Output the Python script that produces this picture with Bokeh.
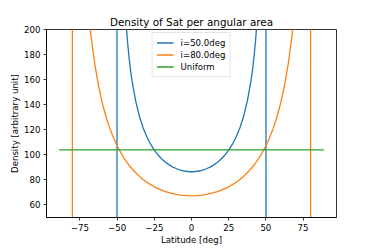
from bokeh.plotting import figure
from bokeh.models import Range1d, FixedTicker
from bokeh.embed import file_html
from bokeh.resources import INLINE

# ---- data ----
blue_lat = [-89.5, -50.1, -49.9, -49, -48, -47, -46, -45, -44, -43, -42, -41, -40,
            -37.5, -35, -32.5, -30, -27.5, -25, -22.5, -20, -17.5, -15, -12.5, -10,
            -7.5, -5, -2.5, 0, 2.5, 5, 7.5, 10, 12.5, 15, 17.5, 20, 22.5, 25, 27.5,
            30, 32.5, 35, 37.5, 40, 41, 42, 43, 44, 45, 46, 47, 48, 49, 49.9, 50.1, 89.5]
blue_val = [0, 0, 1598, 505.0, 356.6, 290.9, 251.7, 225.0, 205.3, 190.1, 177.8, 167.6, 159.1,
            142.6, 130.6, 121.4, 114.2, 108.5, 103.8, 99.9, 96.7, 94.1, 92.0, 90.2, 88.9,
            87.8, 87.1, 86.7, 86.5, 86.7, 87.1, 87.8, 88.9, 90.2, 92.0, 94.1, 96.7, 99.9,
            103.8, 108.5, 114.2, 121.4, 130.6, 142.6, 159.1, 167.6, 177.8, 190.1, 205.3,
            225.0, 251.7, 290.9, 356.6, 505.0, 1598, 0, 0]

orange_lat = [-89.5, -80.1, -79.9, -79, -77.5, -75, -72.5, -70, -67.5, -65, -62.5, -60,
              -57.5, -55, -52.5, -50, -47.5, -45, -42.5, -40, -37.5, -35, -32.5, -30,
              -27.5, -25, -22.5, -20, -17.5, -15, -12.5, -10, -7.5, -5, -2.5, 0,
              2.5, 5, 7.5, 10, 12.5, 15, 17.5, 20, 22.5, 25, 27.5, 30, 32.5, 35, 37.5,
              40, 42.5, 45, 47.5, 50, 52.5, 55, 57.5, 60, 62.5, 65, 67.5, 70, 72.5, 75,
              77.5, 79, 79.9, 80.1, 89.5]
orange_val = [0, 0, 2693, 838, 513.2, 345.5, 270.1, 225.0, 194.4, 172.1, 155.0, 141.4,
              130.4, 121.3, 113.6, 107.1, 101.6, 96.7, 92.5, 88.9, 85.7, 82.8, 80.3, 78.1,
              76.2, 74.5, 73.1, 71.8, 70.7, 69.8, 69.0, 68.4, 67.9, 67.6, 67.4, 67.3,
              67.4, 67.6, 67.9, 68.4, 69.0, 69.8, 70.7, 71.8, 73.1, 74.5, 76.2, 78.1,
              80.3, 82.8, 85.7, 88.9, 92.5, 96.7, 101.6, 107.1, 113.6, 121.3, 130.4,
              141.4, 155.0, 172.1, 194.4, 225.0, 270.1, 345.5, 513.2, 838, 2693, 0, 0]

uniform_lat = [-89, 89]
uniform_val = [104, 104]

x_ticks = [-75, -50, -25, 0, 25, 50, 75]
x_tick_labels = ["\u221275", "\u221250", "\u221225", "0", "25", "50", "75"]
y_ticks = [60, 80, 100, 120, 140, 160, 180, 200]

FONT = "DejaVu Sans"
FS = "8.6px"

p = figure(frame_width=290, frame_height=188,
           min_border_left=46, min_border_right=38, min_border_top=29, min_border_bottom=32,
           x_range=Range1d(-97.5, 97.5), y_range=Range1d(50, 200),
           output_backend="svg", toolbar_location=None,
           title="Density of Sat per angular area")

p.line(blue_lat, blue_val, color="#1f77b4", line_width=1.3, legend_label="i=50.0deg")
p.line(orange_lat, orange_val, color="#ff7f0e", line_width=1.3, legend_label="i=80.0deg")
p.line(uniform_lat, uniform_val, color="#2ca02c", line_width=1.3, legend_label="Uniform")

p.grid.visible = False
p.background_fill_color = "white"
p.border_fill_color = "white"
p.outline_line_color = "black"
p.outline_line_width = 0.8

p.title.text_font = FONT
p.title.text_font_size = "10.4px"
p.title.text_font_style = "normal"
p.title.text_color = "black"
p.title.align = "center"
p.title.standoff = 3

for ax in (p.xaxis[0], p.yaxis[0]):
    ax.axis_line_color = "black"
    ax.axis_line_width = 0.8
    ax.major_tick_line_color = "black"
    ax.major_tick_line_width = 0.8
    ax.major_tick_out = 3
    ax.major_tick_in = 0
    ax.minor_tick_line_color = None
    ax.major_label_standoff = 3
    ax.major_label_text_font = FONT
    ax.major_label_text_font_size = FS
    ax.major_label_text_color = "black"
    ax.axis_label_text_font = FONT
    ax.axis_label_text_font_size = FS
    ax.axis_label_text_font_style = "normal"
    ax.axis_label_text_color = "black"

p.xaxis.ticker = FixedTicker(ticks=x_ticks)
p.xaxis.major_label_overrides = dict(zip(x_ticks, x_tick_labels))
p.yaxis.ticker = FixedTicker(ticks=y_ticks)
p.xaxis.axis_label = "Latitude [deg]"
p.yaxis.axis_label = "Density [arbitrary unit]"
p.xaxis.axis_label_standoff = 1
p.yaxis.axis_label_standoff = 1

lg = p.legend[0]
lg.location = "top_center"
lg.margin = 3
lg.padding = 4
lg.spacing = 1
lg.glyph_width = 17
lg.glyph_height = 11
lg.label_height = 11
lg.label_standoff = 7
lg.label_text_font = FONT
lg.label_text_font_size = FS
lg.label_text_color = "black"
lg.border_line_color = "#cccccc"
lg.border_line_width = 0.8
lg.background_fill_alpha = 0.8

open("out.html", "w").write(file_html(p, INLINE))
